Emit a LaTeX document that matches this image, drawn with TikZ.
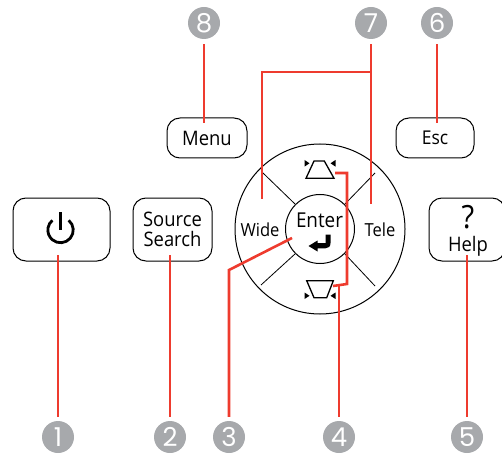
\documentclass[tikz,border=0pt]{standalone}
\usepackage{fontspec}
\setmainfont{Open Sans}[FakeStretch=0.92]
\newfontfamily\numfont{Poppins}
\definecolor{calloutred}{HTML}{EE3B2E}
\definecolor{badgegray}{HTML}{A7A9AC}
\tikzset{
  btn/.style={draw=black,line width=1pt,rounded corners=13pt,fill=white,inner sep=0pt,align=center,font=\fontsize{20}{20}\selectfont},
  ring/.style={draw=black,line width=1pt,circle,inner sep=0pt},
  badge/.style={circle,fill=badgegray,text=white,inner sep=0pt,minimum size=32pt,font=\numfont\fontsize{26}{26}\selectfont},
  callout/.style={draw=calloutred,line width=2.6pt},
  spoke/.style={draw=black,line width=0.8pt},
  lbl/.style={inner sep=0pt,font=\fontsize{18}{20}\selectfont},
  keyst/.style={draw=black,line width=1.3pt,line join=miter},
  tick/.style={fill=black}
}
\begin{document}
\begin{tikzpicture}[x=1pt,y=-1pt]
\useasboundingbox (0,0) rectangle (502,454);
% buttons
\node[btn,minimum width=97pt,minimum height=63pt] (power) at (61.5,229.5) {};
\node[btn,minimum width=79pt,minimum height=63pt] (source) at (172.5,229.5) {Source\\Search};
\node[btn,minimum width=76pt,minimum height=63pt] (help) at (467,229.5) {};
\node[btn,minimum width=80pt,minimum height=40pt] (menu) at (207,138) {Menu};
\node[btn,minimum width=78pt,minimum height=40pt,font=\fontsize{19}{20}\selectfont] (esc) at (435,138) {Esc};
\node[inner sep=0pt,font=\fontsize{32}{32}\selectfont] (qm) at (468,217) {?};
\node[lbl,font=\fontsize{20}{20}\selectfont] (helpt) at (468,246) {Help};
% power icon
\draw[line width=2.8pt] (68.7,220.3) arc[start angle=-50,end angle=230,radius=12.7];
\draw[line width=2.8pt] (60.5,212) -- (60.5,230);
% wheel
\node[ring,minimum size=170pt] (outer) at (320,229) {};
\node[ring,minimum size=69pt,fill=white] (inner) at (320,229) {};
\coordinate (nw) at (263,173);
\coordinate (ne) at (375,173);
\coordinate (sw) at (261,285);
\coordinate (se) at (375,286);
\draw[spoke] (inner.135) -- (nw);
\draw[spoke] (inner.45) -- (ne);
\draw[spoke] (inner.225) -- (sw);
\draw[spoke] (inner.315) -- (se);
\node[lbl] (wide) at (260,229.5) {Wide};
\node[lbl] (tele) at (380,229.5) {Tele};
\node[lbl,font=\fontsize{20.5}{20}\selectfont] (enter) at (319.5,220) {Enter};
% enter arrow
\fill (308.5,246) -- (317.5,240.5) -- (317.5,243.2) -- (325.5,243.2) -- (325.5,234.5) -- (330.5,234.5) -- (330.5,243) .. controls (330.5,246.5) and (328.5,248.3) .. (325.5,248.3) -- (317.5,248.3) -- (317.5,251.5) -- cycle;
% keystone icons
\draw[keyst] (306,178.3) -- (334,178.3) -- (324.3,161) -- (314,161) -- cycle;
\fill[tick] (304.5,160) -- (309.5,163.3) -- (304.5,166.6) -- cycle;
\fill[tick] (335.5,160) -- (330.5,163.3) -- (335.5,166.6) -- cycle;
\draw[keyst] (306.7,280.7) -- (333.3,280.7) -- (326.7,297.7) -- (314,297.7) -- cycle;
\fill[tick] (304.5,292.5) -- (309.5,295.8) -- (304.5,299) -- cycle;
\fill[tick] (335.5,292.5) -- (330.5,295.8) -- (335.5,299) -- cycle;
% badges
\node[badge] (n1) at (58,437) {1};
\node[badge] (n2) at (170,437) {2};
\node[badge] (n3) at (229,437) {3};
\node[badge] (n4) at (339,437) {4};
\node[badge] (n5) at (467,437) {5};
\node[badge] (n6) at (437,23) {6};
\node[badge] (n7) at (371,23) {7};
\node[badge] (n8) at (204,23) {8};
% connector ends
\coordinate (e1) at (58,255);
\coordinate (e2) at (170,255);
\coordinate (e3) at (292,238);
\coordinate (b3) at (229,270);
\coordinate (b4) at (339,284);
\coordinate (k1) at (333,286);
\coordinate (k2) at (347,284);
\coordinate (k3) at (347,173);
\coordinate (k4) at (335,173);
\coordinate (e5) at (467,255);
\coordinate (e6) at (437,123);
\coordinate (e7) at (371,204);
\coordinate (j7) at (371,72);
\coordinate (c7) at (262,72);
\coordinate (w7) at (262,199);
\coordinate (e8) at (204,123);
% connectors
\draw[callout,shorten <=4pt] (n1.north) -- (e1);
\draw[callout,shorten <=4pt] (n2.north) -- (e2);
\draw[callout,shorten <=4pt,line join=miter] (n3.north) -- (b3) -- (e3);
\draw[callout,shorten <=4pt] (n4.north) -- (b4);
\draw[callout,line join=miter] (k1) -- (k2) -- (k3) -- (k4);
\draw[callout,shorten <=4pt] (n5.north) -- (e5);
\draw[callout,shorten <=5pt] (n6.south) -- (e6);
\draw[callout,shorten <=5pt] (n7.south) -- (e7);
\draw[callout,line join=miter] (j7) -- (c7) -- (w7);
\draw[callout,shorten <=5pt] (n8.south) -- (e8);
\end{tikzpicture}
\end{document}
